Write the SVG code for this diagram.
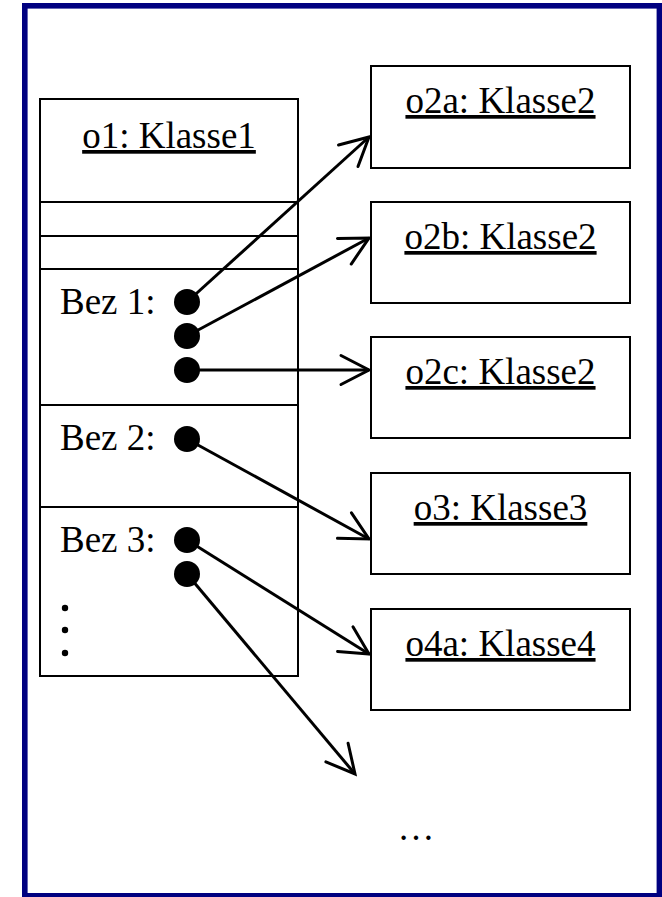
<svg xmlns="http://www.w3.org/2000/svg" width="662" height="897" viewBox="0 0 662 897">
  <style>
    .lbl { font-family: "Liberation Serif", "Times New Roman", serif; font-size: 37px; fill: #000; }
    .title { text-anchor: middle; text-decoration: underline; }
    .box { fill: #fff; stroke: #000; stroke-width: 2; }
    .sep { stroke: #000; stroke-width: 2; }
    .link { stroke: #000; stroke-width: 3; fill: none; marker-end: url(#open); }
    .dot { fill: #000; }
  </style>
  <defs>
    <marker id="open" markerUnits="userSpaceOnUse" viewBox="-36 -20 40 40" markerWidth="40" markerHeight="40" refX="0" refY="0" orient="auto">
      <path d="M -28,-14.5 L 0,0 L -28,14.5" fill="none" stroke="#000" stroke-width="3" stroke-linecap="round" stroke-linejoin="miter"/>
    </marker>
  </defs>

  <rect x="0" y="0" width="662" height="897" fill="#fff"/>
  <!-- outer frame -->
  <rect x="24.8" y="5.8" width="634.6" height="890" fill="#fff" stroke="#000080" stroke-width="5.6"/>

  <!-- object o1 with its compartments -->
  <g id="o1">
    <rect class="box" x="40" y="99" width="258" height="577"/>
    <line class="sep" x1="40" y1="202" x2="298" y2="202"/>
    <line class="sep" x1="40" y1="236" x2="298" y2="236"/>
    <line class="sep" x1="40" y1="269" x2="298" y2="269"/>
    <line class="sep" x1="40" y1="405" x2="298" y2="405"/>
    <line class="sep" x1="40" y1="507" x2="298" y2="507"/>
    <text class="lbl title" x="169" y="148">o1: Klasse1</text>
    <text class="lbl" x="60" y="314">Bez 1:</text>
    <text class="lbl" x="60" y="450">Bez 2:</text>
    <text class="lbl" x="60" y="552">Bez 3:</text>
    <circle class="dot" cx="187" cy="302" r="13"/>
    <circle class="dot" cx="187" cy="336" r="13"/>
    <circle class="dot" cx="187" cy="370" r="13"/>
    <circle class="dot" cx="187" cy="439" r="13"/>
    <circle class="dot" cx="187" cy="540" r="13"/>
    <circle class="dot" cx="187" cy="574" r="13"/>
    <circle class="dot" cx="65" cy="608" r="3.2"/>
    <circle class="dot" cx="65" cy="630" r="3.2"/>
    <circle class="dot" cx="65" cy="653" r="3.2"/>
  </g>

  <g id="o2a">
    <rect class="box" x="371" y="66" width="259" height="102"/>
    <text class="lbl title" x="500.5" y="113">o2a: Klasse2</text>
  </g>
  <g id="o2b">
    <rect class="box" x="371" y="202" width="259" height="101"/>
    <text class="lbl title" x="500.5" y="249">o2b: Klasse2</text>
  </g>
  <g id="o2c">
    <rect class="box" x="371" y="337" width="259" height="101"/>
    <text class="lbl title" x="500.5" y="384">o2c: Klasse2</text>
  </g>
  <g id="o3">
    <rect class="box" x="371" y="473" width="259" height="101"/>
    <text class="lbl title" x="500.5" y="520">o3: Klasse3</text>
  </g>
  <g id="o4a">
    <rect class="box" x="371" y="609" width="259" height="101"/>
    <text class="lbl title" x="500.5" y="656">o4a: Klasse4</text>
  </g>
  <g id="more">
    <text class="lbl" x="416" y="840" text-anchor="middle">…</text>
  </g>

  <!-- references from o1 -->
  <g id="connectors">
    <line class="link" x1="187" y1="302" x2="369" y2="137"/>
    <line class="link" x1="187" y1="336" x2="369" y2="238"/>
    <line class="link" x1="187" y1="370" x2="369" y2="370"/>
    <line class="link" x1="187" y1="439" x2="369" y2="539"/>
    <line class="link" x1="187" y1="540" x2="369" y2="654"/>
    <line class="link" x1="187" y1="574" x2="355" y2="774"/>
  </g>
</svg>
